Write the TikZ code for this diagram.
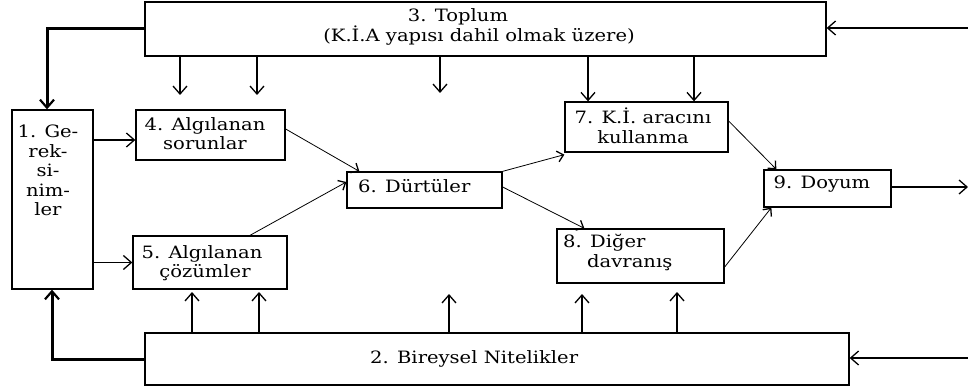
\documentclass[tikz,border=0pt]{standalone}
\usepackage{fontspec}
\setmainfont[FakeStretch=1.15]{DejaVu Serif}
\usetikzlibrary{arrows.meta}
\begin{document}
\begin{tikzpicture}[x=1pt,y=-1pt,
  box/.style={draw, line width=1.3pt, inner sep=0pt},
  lbl/.style={font=\fontsize{17}{19.5}\selectfont, inner sep=0pt, align=center},
  arr/.style={line width=1.3pt, -{Straight Barb[length=8pt,width=14pt,line width=1.3pt]}},
  thk/.style={line width=3pt, -{Straight Barb[length=8pt,width=14pt,line width=2.2pt]}},
  thn/.style={line width=0.8pt, -{Straight Barb[length=6pt,width=11pt,line width=1.3pt]}}]
\useasboundingbox (0,0) rectangle (968,390);
% boxes
\node[box, minimum width=681pt, minimum height=54pt] (n3) at (485.5,29) {};
\node[box, minimum width=81pt, minimum height=179pt] (n1) at (52.5,199.5) {};
\node[box, minimum width=149pt, minimum height=50pt] (n4) at (210.5,135) {};
\node[box, minimum width=154pt, minimum height=53pt] (n5) at (210,262.5) {};
\node[box, minimum width=155pt, minimum height=36pt] (n6) at (424.5,190) {};
\node[box, minimum width=163pt, minimum height=50pt] (n7) at (646.5,127) {};
\node[box, minimum width=167pt, minimum height=54pt] (n8) at (640.5,256) {};
\node[box, minimum width=127pt, minimum height=37pt] (n9) at (827.5,188.5) {};
\node[box, minimum width=704pt, minimum height=52pt] (n2) at (497,359) {};
% labels
\node[lbl, anchor=base] (t3a) at (458,22) {3. Toplum};
\node[lbl, anchor=base] (t3b) at (479,42) {(K.İ.A yapısı dahil olmak üzere)};
\node[lbl, anchor=north] (t1) at (48,125) {1. Ge-\\rek-\\si-\\nim-\\ler};
\node[lbl, anchor=north] (t4) at (205,117) {4. Algılanan\\sorunlar};
\node[lbl, anchor=north] (t5) at (202,245) {5. Algılanan\\\hspace*{6pt}çözümler};
\node[lbl, anchor=base west] (t6) at (358,193) {6. Dürtüler};
\node[lbl, anchor=north] (t7) at (643,108) {7. K.İ. aracını\\kullanma};
\node[lbl, anchor=north west, align=left] (t8) at (563,234) {8. Diğer\\\hspace*{24pt}davranış};
\node[lbl, anchor=base] (t9) at (822,188) {9. Doyum};
\node[lbl, anchor=base west] (t2) at (370,363) {2. Bireysel Nitelikler};
% free coordinates
\coordinate (d1) at (180,95);
\coordinate (d2) at (257,95);
\coordinate (d3) at (440,93);
\coordinate (d4) at (588,0);
\coordinate (d5) at (694,0);
\coordinate (u1) at (192,292);
\coordinate (u2) at (259,292);
\coordinate (u3) at (449,294);
\coordinate (u4) at (582,294);
\coordinate (u5) at (677,292);
\coordinate (r1) at (968,28);
\coordinate (r2) at (968,358);
\coordinate (r3) at (968,187);
\coordinate (h14) at (0,140);
% feedback
\draw[thk] (n3.west) -| ([xshift=-5.5pt]n1.north);
\draw[thk] (n2.west) -| ([xshift=-0.5pt]n1.south);
\draw[arr] (r1) -- (n3.east |- r1);
\draw[arr] (r2) -- (n2.east |- r2);
% down arrows
\draw[arr] (n3.south -| d1) -- (d1);
\draw[arr] (n3.south -| d2) -- (d2);
\draw[arr] (n3.south -| d3) -- (d3);
\draw[arr] (n3.south -| d4) -- (n7.north -| d4);
\draw[arr] (n3.south -| d5) -- (n7.north -| d5);
% up arrows
\draw[arr] (n2.north -| u1) -- (u1);
\draw[arr] (n2.north -| u2) -- (u2);
\draw[arr] (n2.north -| u3) -- (u3);
\draw[arr] (n2.north -| u4) -- (u4);
\draw[arr] (n2.north -| u5) -- (u5);
% flow
\draw[arr] (n1.east |- h14) -- (n4.west |- h14);
\draw[arr] (n1.east |- n5.west) -- (n5.west);
\draw[thn] ([yshift=6pt]n4.east) -- ([xshift=13pt]n6.north west);
\draw[thn] ([xshift=40pt]n5.north) -- ([yshift=8pt]n6.west);
\draw[thn] (n6.north east) -- ([yshift=-2pt]n7.south west);
\draw[thn] ([yshift=3pt]n6.east) -- ([xshift=28pt]n8.north west);
\draw[thn] ([yshift=6pt]n7.east) -- ([xshift=13pt]n9.north west);
\draw[thn] ([yshift=-11pt]n8.east) -- ([xshift=8pt]n9.south west);
\draw[arr] (n9.east |- r3) -- (r3);
\end{tikzpicture}
\end{document}
